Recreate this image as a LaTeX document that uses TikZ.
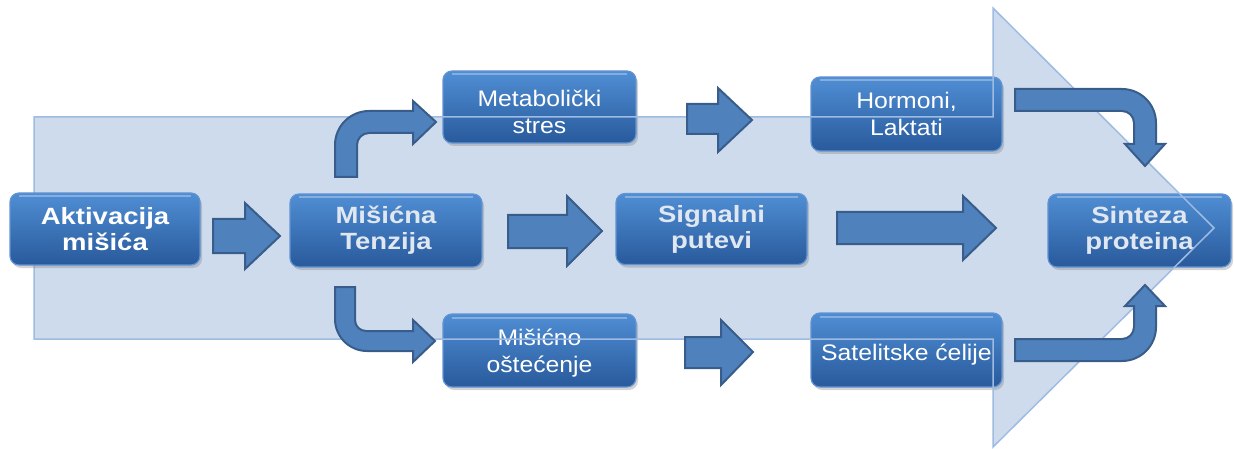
\documentclass[tikz,border=0pt]{standalone}
\usepackage{fontspec}
\setmainfont{Liberation Sans}
\newfontfamily\boldbox[FakeStretch=1.17]{Liberation Sans}
\newfontfamily\normbox[FakeStretch=1.1]{Liberation Sans}
\usetikzlibrary{shadows}
\definecolor{boxtop}{RGB}{80,142,212}
\definecolor{boxbot}{RGB}{40,90,156}
\definecolor{boxline}{RGB}{98,148,210}
\definecolor{bigfill}{RGB}{206,219,236}
\definecolor{bigline}{RGB}{157,187,227}
\definecolor{arrowfill}{RGB}{79,129,189}
\definecolor{arrowline}{RGB}{56,93,138}
\definecolor{softwhite}{RGB}{224,231,240}
\tikzset{
  box/.style={rounded corners=9pt, draw=boxline, line width=1.2pt,
    top color=boxtop, bottom color=boxbot, align=center, inner sep=0pt,
    drop shadow={shadow xshift=2pt, shadow yshift=-3pt, opacity=.35},
    path picture={\draw[white,opacity=.3,line width=2pt]
      ([xshift=9pt,yshift=-3.5pt]path picture bounding box.north west) --
      ([xshift=-9pt,yshift=-3.5pt]path picture bounding box.north east);}},
  bigbox/.style={box, font=\boldbox\bfseries\fontsize{23.5}{26}\selectfont, text=softwhite},
  smallbox/.style={box},
  smalltext/.style={font=\normbox\fontsize{22.5}{27}\selectfont, text=white, align=center, inner sep=0pt},
  blk/.style={fill=arrowfill, draw=arrowline, line width=2pt, line join=miter},
  bigarrow/.style={draw=bigline, line width=1.5pt},
}
\begin{document}
\begin{tikzpicture}[x=1pt,y=-1pt]
\useasboundingbox (0,0) rectangle (1234,449);
% big background arrow fill
\fill[bigfill] (34,117) -- (993,117) -- (993,8) -- (1214,228) -- (993,447) -- (993,339) -- (34,339) -- cycle;
% boxes
\node[bigbox, minimum width=192pt, minimum height=73pt] (mis) at (386,230.5) {Mišićna\\Tenzija};
\node[bigbox, minimum width=191pt, minimum height=71pt] (sig) at (711.5,229) {Signalni\\putevi};
\node[bigbox, minimum width=183pt, minimum height=73pt] (sin) at (1139.5,230.5) {Sinteza\\proteina};
\node[smallbox, minimum width=193pt, minimum height=72pt] (met) at (539.5,107) {};
\node[smallbox, minimum width=193pt, minimum height=73pt] (ost) at (539.5,350.5) {};
\node[smallbox, minimum width=191pt, minimum height=74pt] (hor) at (906.5,114) {};
\node[smallbox, minimum width=191pt, minimum height=74pt] (sat) at (906.5,350) {};
\node[smalltext] (mett) at ([yshift=-5pt]met.center) {Metabolički\\stres};
\node[smalltext] (ostt) at ([yshift=-3pt]ost.center) {Mišićno\\oštećenje};
\node[smalltext] (hort) at (hor.center) {Hormoni,\\Laktati};
\node[smalltext] (satt) at ([yshift=-5pt]sat.center) {Satelitske ćelije};
% big arrow outline over boxes
\draw[bigarrow] (34,117) -- (993,117) -- (993,8) -- (1214,228) -- (993,447) -- (993,339) -- (34,339) -- cycle;
\node[bigbox, text=white, minimum width=190pt, minimum height=72pt] (akt) at (105,229) {Aktivacija\\mišića};
% straight block arrows
\draw[blk] (213,219) -- (245,219) -- (245,203) -- (280,236) -- (245,269) -- (245,253) -- (213,253) -- cycle;
\draw[blk] (508,215) -- (567,215) -- (567,196) -- (602,231) -- (567,266) -- (567,248) -- (508,248) -- cycle;
\draw[blk] (837,212) -- (963,212) -- (963,196) -- (996,228) -- (963,260) -- (963,244) -- (837,244) -- cycle;
\draw[blk] (687,104) -- (718,104) -- (718,88) -- (752,120) -- (718,152) -- (718,134) -- (687,134) -- cycle;
\draw[blk] (685,337) -- (721,337) -- (721,320) -- (753,352) -- (721,385) -- (721,368) -- (685,368) -- cycle;
% bent arrows
\draw[blk] (335,177) [rounded corners=34pt]-- (335,111) [sharp corners]-- (413,111) -- (413,101) -- (436,122) -- (413,144) -- (413,133) [rounded corners=12pt]-- (357,133) [sharp corners]-- (357,177) -- cycle;
\draw[blk] (335,287) [rounded corners=32pt]-- (335,351) [sharp corners]-- (413,351) -- (413,362) -- (435,341) -- (413,320) -- (413,331) [rounded corners=11pt]-- (355,331) [sharp corners]-- (355,287) -- cycle;
\draw[blk] (1015,89) [rounded corners=34pt]-- (1156,89) [sharp corners]-- (1156,144) -- (1165,144) -- (1145,166) -- (1125,144) -- (1134,144) [rounded corners=12pt]-- (1134,111) [sharp corners]-- (1015,111) -- cycle;
\draw[blk] (1015,361) [rounded corners=34pt]-- (1156,361) [sharp corners]-- (1156,306) -- (1165,306) -- (1145,285) -- (1125,306) -- (1134,306) [rounded corners=12pt]-- (1134,339) [sharp corners]-- (1015,339) -- cycle;
\end{tikzpicture}
\end{document}
